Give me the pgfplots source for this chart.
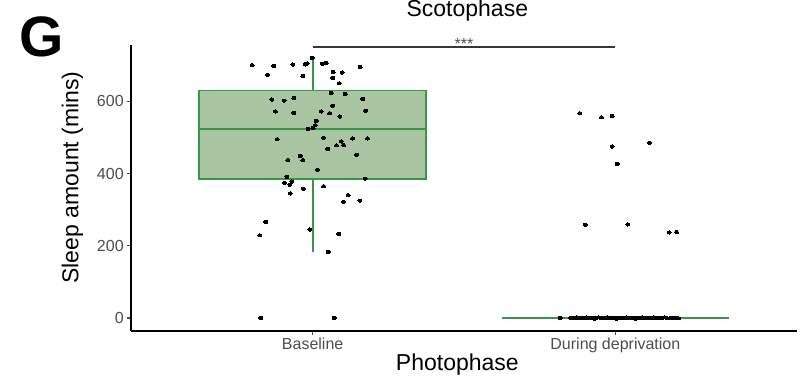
\documentclass[border=0pt]{standalone}
\usepackage{fontspec}
\setmainfont{Liberation Sans}
\usepackage{pgfplots}
\usepackage{pgfplotstable}
\pgfplotsset{compat=1.18}
\definecolor{boxgreen}{RGB}{56,150,72}
\definecolor{boxfill}{RGB}{169,197,161}
\definecolor{tickgray}{RGB}{77,77,77}
\definecolor{sigbar}{RGB}{55,55,55}

\pgfplotstableread{
x y
0.800 700
0.872 698
0.935 702
0.976 702
0.982 705
0.979 703
0.998 720
1.032 704
1.045 706
1.157 695
0.851 674
0.968 670
1.068 681
1.097 680
1.067 665
1.088 650
1.062 623
1.108 620
1.166 607
0.938 609
0.865 605
0.906 602
1.066 588
0.877 572
0.938 568
1.028 572
1.056 567
1.175 574
1.090 558
1.012 546
1.009 534
1.002 526
0.985 524
0.883 495
1.036 499
1.132 497
1.181 497
1.094 489
1.079 478
1.102 479
1.050 468
1.146 452
0.959 449
0.918 437
0.968 437
1.016 410
0.915 391
1.173 386
0.907 374
0.931 378
0.925 369
1.036 365
0.969 358
0.926 345
1.117 340
1.102 322
1.156 325
0.825 229
0.845 266
0.991 245
1.086 233
1.051 183
0.829 0
1.071 0
}\baselinedata

\pgfplotstableread{
x y
1.882 567
1.954 556
1.989 559
2.113 485
1.989 475
2.006 427
1.901 258
2.041 259
2.178 237
2.202 238
1.818 0
1.852 1
1.858 -1
1.866 0
1.871 2
1.879 0
1.886 -1
1.893 1
1.899 0
1.904 2
1.912 -1
1.918 0
1.925 1
1.931 -2
1.936 0
1.944 2
1.951 0
1.957 -1
1.962 1
1.969 0
1.975 2
1.983 -1
1.990 0
1.996 1
2.003 -2
2.009 0
2.017 1
2.022 -1
2.030 0
2.036 2
2.041 0
2.049 -1
2.055 1
2.062 0
2.068 -2
2.073 1
2.081 0
2.088 2
2.094 -1
2.101 0
2.107 1
2.114 -1
2.121 0
2.127 2
2.134 0
2.141 -1
2.147 1
2.155 0
2.163 2
2.172 -1
2.183 0
2.194 1
2.201 0
2.209 -1
}\deprivdata

\begin{document}
\begin{tikzpicture}
\useasboundingbox (0pt,0pt) rectangle (803pt,379pt);
\begin{axis}[
  at={(131pt,48pt)}, anchor=south west,
  scale only axis, width=666pt, height=286pt,
  xmin=0.4, xmax=2.6, ymin=-36, ymax=756,
  axis x line*=bottom, axis y line*=left,
  axis line style={line width=1.6pt, black},
  xtick={1,2}, xticklabels={Baseline, During deprivation},
  ytick={0,200,400,600},
  tick align=outside, major tick length=3.8pt,
  tick style={line width=1.1pt, tickgray},
  ticklabel style={font=\fontsize{16}{19}\selectfont, text=tickgray},
  /pgf/number format/assume math mode=true,
  clip=false,
  xlabel={Photophase},
  xlabel style={font=\fontsize{23}{27}\selectfont, at={(axis description cs:0.49,-0.118)}, anchor=center},
  ylabel={Sleep amount (mins)},
  ylabel style={font=\fontsize{23}{27}\selectfont, at={(axis description cs:-0.088,0.537)}, anchor=center},
]
% Baseline box: whiskers, box, median
\addplot[draw=boxgreen, line width=1.8pt, mark=none] coordinates {(1,630) (1,720)};
\addplot[draw=boxgreen, line width=1.8pt, mark=none] coordinates {(1,386) (1,183)};
\addplot[draw=boxgreen, fill=boxfill, line width=1.8pt, mark=none] coordinates {(0.625,386) (1.375,386) (1.375,630) (0.625,630)} -- cycle;
\addplot[draw=boxgreen, line width=1.8pt, mark=none] coordinates {(0.625,524) (1.375,524)};
% During deprivation: collapsed box at 0
\addplot[draw=boxgreen, line width=2.2pt, mark=none] coordinates {(1.625,0) (2.375,0)};
% jittered points
\addplot[only marks, mark=*, mark size=1.6pt, mark options={xscale=1.25, fill=black, draw=black, line width=0pt}] table[x=x, y=y] {\baselinedata};
\addplot[only marks, mark=*, mark size=1.6pt, mark options={xscale=1.25, fill=black, draw=black, line width=0pt}] table[x=x, y=y] {\deprivdata};
% significance bar
\addplot[line width=1.8pt, color=sigbar, mark=none] coordinates {(1,751) (2,751)};
\node[font=\fontsize{16}{18}\selectfont, text=tickgray, anchor=base, inner sep=0pt] at (axis cs:1.5,744) {***};
% title
\node[font=\fontsize{23}{27}\selectfont, anchor=base, inner sep=0pt] at (axis description cs:0.505,1.0997) {Scotophase};
\end{axis}
\node[font=\fontsize{57}{60}\selectfont\bfseries, anchor=base west, inner sep=0pt] at (19.5pt,322pt) {G};
\end{tikzpicture}
\end{document}
